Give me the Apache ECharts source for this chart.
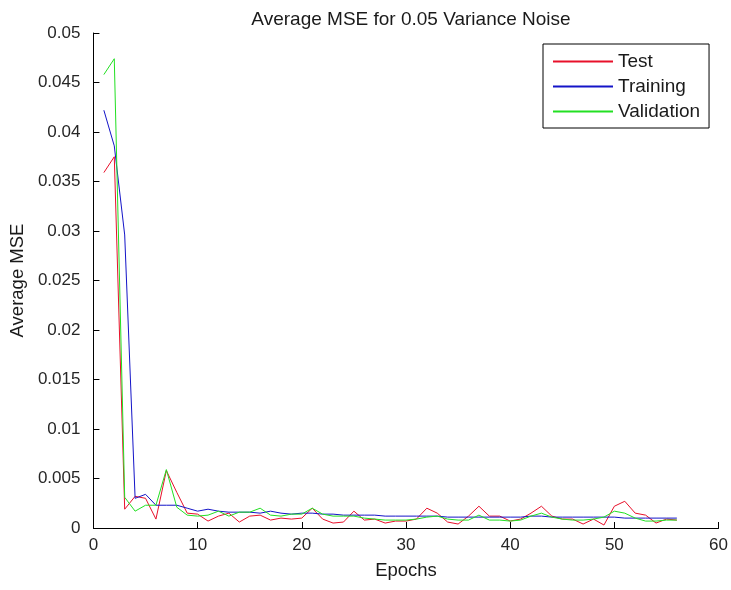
<!DOCTYPE html>
<html>
<head>
<meta charset="utf-8">
<script src="https://cdn.jsdelivr.net/npm/echarts@6/dist/echarts.min.js"></script>
<style>
  html, body { margin: 0; padding: 0; background: #fff; }
  #chart { width: 731px; height: 590px; }
</style>
</head>
<body>
<div id="chart"></div>
<script>
// Average MSE per epoch for the three data splits
const epochs = Array.from({ length: 56 }, (_, i) => i + 1);

const testMSE = [
  0.0359, 0.0375, 0.0019, 0.0032, 0.0030, 0.0009, 0.0058, 0.0036, 0.0015, 0.0014,
  0.0007, 0.0012, 0.0015, 0.0006, 0.0012, 0.0013, 0.0008, 0.0010, 0.0009, 0.0010,
  0.0020, 0.0009, 0.0005, 0.0006, 0.0017, 0.0008, 0.0009, 0.0005, 0.0007, 0.0007,
  0.0009, 0.0020, 0.0015, 0.0006, 0.0004, 0.0012, 0.0022, 0.0012, 0.0012, 0.0007,
  0.0009, 0.0015, 0.0022, 0.0012, 0.0009, 0.0009, 0.0004, 0.0009, 0.0003, 0.0022,
  0.0027, 0.0015, 0.0013, 0.0005, 0.0009, 0.0008
];

const trainingMSE = [
  0.0422, 0.0386, 0.0296, 0.0030, 0.0034, 0.0023, 0.0023, 0.0023, 0.0020, 0.0017,
  0.0019, 0.0017, 0.0016, 0.0016, 0.0016, 0.0015, 0.0017, 0.0015, 0.0014, 0.0015,
  0.0015, 0.0014, 0.0014, 0.0013, 0.0013, 0.0013, 0.0013, 0.0012, 0.0012, 0.0012,
  0.0012, 0.0012, 0.0012, 0.0011, 0.0011, 0.0011, 0.0011, 0.0011, 0.0011, 0.0011,
  0.0011, 0.0012, 0.0012, 0.0011, 0.0011, 0.0011, 0.0011, 0.0011, 0.0011, 0.0011,
  0.0010, 0.0010, 0.0010, 0.0010, 0.0010, 0.0010
];

const validationMSE = [
  0.0458, 0.0474, 0.0031, 0.0017, 0.0023, 0.0023, 0.0059, 0.0021, 0.0013, 0.0012,
  0.0013, 0.0017, 0.0012, 0.0016, 0.0016, 0.0020, 0.0013, 0.0012, 0.0014, 0.0014,
  0.0020, 0.0014, 0.0012, 0.0012, 0.0012, 0.0010, 0.0009, 0.0008, 0.0008, 0.0008,
  0.0009, 0.0011, 0.0012, 0.0009, 0.0008, 0.0008, 0.0013, 0.0008, 0.0008, 0.0007,
  0.0008, 0.0012, 0.0015, 0.0011, 0.0009, 0.0008, 0.0008, 0.0009, 0.0011, 0.0017,
  0.0015, 0.0010, 0.0007, 0.0007, 0.0008, 0.0008
];

const seriesNames = ['Test', 'Training', 'Validation'];
const seriesColors = ['#e8102a', '#1414c8', '#22e022'];

const FONT = 'Liberation Sans, Arial, sans-serif';
const pairs = (vals) => vals.map((v, i) => [epochs[i], v]);

const chart = echarts.init(document.getElementById('chart'), null, { renderer: 'canvas' });

chart.setOption({
  animation: false,
  backgroundColor: '#ffffff',
  title: {
    text: 'Average MSE for 0.05 Variance Noise',
    left: 406,
    textAlign: 'center',
    top: 5,
    textStyle: { fontFamily: FONT, fontSize: 19, fontWeight: 'normal', color: '#1a1a1a' }
  },
  grid: { left: 93, right: 12, top: 33, bottom: 62, containLabel: false },
  legend: {
    orient: 'vertical',
    left: 543,
    top: 44,
    padding: [8, 9, 7, 10],
    icon: 'rect',
    itemWidth: 60,
    itemHeight: 2,
    itemGap: 6,
    backgroundColor: '#ffffff',
    borderColor: '#000000',
    borderWidth: 1,
    borderRadius: 0,
    textStyle: { fontFamily: FONT, fontSize: 19, color: '#1a1a1a', lineHeight: 19 },
    // key swatches take the series colours
    data: seriesNames.map((name, k) => ({
      name,
      itemStyle: { color: seriesColors[k], borderWidth: 0 }
    }))
  },
  xAxis: {
    type: 'value',
    min: 0,
    max: 60,
    interval: 10,
    name: 'Epochs',
    nameLocation: 'middle',
    nameGap: 33,
    nameTextStyle: { fontFamily: FONT, fontSize: 18.5, color: '#1a1a1a' },
    axisLine: { show: true, onZero: false, lineStyle: { color: '#000', width: 1 } },
    axisTick: { show: true, inside: true, length: 6, lineStyle: { color: '#000' } },
    axisLabel: { fontFamily: FONT, fontSize: 17, color: '#262626', margin: 9 },
    splitLine: { show: false }
  },
  yAxis: {
    type: 'value',
    min: 0,
    max: 0.05,
    interval: 0.005,
    name: 'Average MSE',
    nameLocation: 'middle',
    nameGap: 66,
    nameTextStyle: { fontFamily: FONT, fontSize: 18.5, color: '#1a1a1a' },
    axisLine: { show: true, lineStyle: { color: '#000', width: 1 } },
    axisTick: { show: true, inside: true, length: 6, lineStyle: { color: '#000' } },
    axisLabel: {
      fontFamily: FONT, fontSize: 17, color: '#262626', margin: 13,
      formatter: (v) => String(+v.toFixed(4))
    },
    splitLine: { show: false }
  },
  series: [testMSE, trainingMSE, validationMSE].map((vals, k) => ({
    name: seriesNames[k],
    type: 'line',
    data: pairs(vals),
    symbol: 'none',
    showSymbol: false,
    lineStyle: { color: seriesColors[k], width: 1 },
    itemStyle: { color: seriesColors[k] },
    z: 2 + k
  }))
});
</script>
</body>
</html>
